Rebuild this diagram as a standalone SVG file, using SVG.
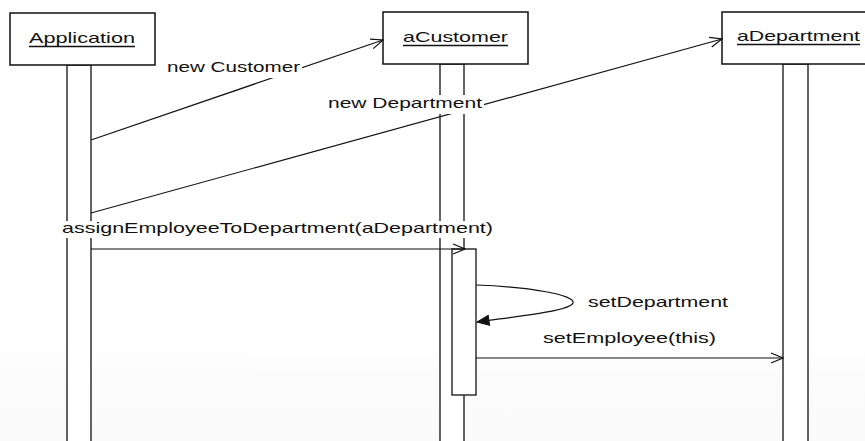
<svg xmlns="http://www.w3.org/2000/svg" width="865" height="441" viewBox="0 0 865 441">
  <style>
    .box { fill: #fff; stroke: #111; stroke-width: 1.5; }
    .bar { fill: #fff; stroke: #111; stroke-width: 1.3; }
    .lbl { font-family: "Liberation Sans", Arial, sans-serif; font-size: 15px; fill: #111; }
    .ul { stroke: #111; stroke-width: 1.3; }
    .msg { fill: none; stroke: #111; stroke-width: 1.2; }
    .bg { fill: #fff; }
  </style>
  <defs>
    <linearGradient id="fade" x1="0" y1="0" x2="0" y2="1">
      <stop offset="0" stop-color="#ffffff"/>
      <stop offset="0.3" stop-color="#fbfbfb"/>
      <stop offset="1" stop-color="#fafafa"/>
    </linearGradient>
    <marker id="open" viewBox="-13 -6 14 12" refX="0" refY="0" markerWidth="14" markerHeight="12" markerUnits="userSpaceOnUse" orient="auto">
      <path d="M-12,-5 L0,0 L-12,5" fill="none" stroke="#111" stroke-width="1.2"/>
    </marker>
    <marker id="filled" viewBox="-13 -6 14 12" refX="0" refY="0" markerWidth="14" markerHeight="12" markerUnits="userSpaceOnUse" orient="auto">
      <path d="M-12,-5 L0,0 L-12,5 Z" fill="#111" stroke="#111" stroke-width="1"/>
    </marker>
  </defs>
  <rect x="0" y="0" width="865" height="441" fill="#fff"/>
  <rect x="0" y="345" width="865" height="96" fill="url(#fade)"/>

  <g id="lifelines">
    <rect class="bar" x="67" y="65" width="24" height="400"/>
    <rect class="bar" x="440" y="64" width="24" height="400"/>
    <rect class="bar" x="783" y="64" width="25" height="400"/>
  </g>

  <g id="node-application">
    <rect class="box" x="10" y="13" width="145" height="52"/>
    <text class="lbl" x="29" y="43" textLength="106" lengthAdjust="spacingAndGlyphs">Application</text>
    <line class="ul" x1="29" y1="46.5" x2="135" y2="46.5"/>
  </g>
  <g id="node-acustomer">
    <rect class="box" x="383" y="12" width="145" height="52"/>
    <text class="lbl" x="403" y="42" textLength="105" lengthAdjust="spacingAndGlyphs">aCustomer</text>
    <line class="ul" x1="403" y1="45.5" x2="508" y2="45.5"/>
  </g>
  <g id="node-adepartment">
    <rect class="box" x="722" y="12" width="150" height="52"/>
    <text class="lbl" x="737" y="41" textLength="123" lengthAdjust="spacingAndGlyphs">aDepartment</text>
    <line class="ul" x1="737" y1="44.5" x2="860" y2="44.5"/>
  </g>

  <g id="activation">
    <rect class="bar" x="452" y="249" width="24" height="146"/>
  </g>

  <g id="connectors">
    <line class="msg" x1="91" y1="140" x2="383" y2="40" marker-end="url(#open)"/>
    <line class="msg" x1="91" y1="213" x2="722" y2="39" marker-end="url(#open)"/>
    <line class="msg" x1="91" y1="249" x2="465" y2="249" marker-end="url(#open)"/>
    <path class="msg" d="M476,285 C530,287 576,295 573,303 C570,311 520,316 477,322" marker-end="url(#filled)"/>
    <line class="msg" x1="476" y1="358" x2="783" y2="358" marker-end="url(#open)"/>
  </g>

  <g id="labels">
    <rect class="bg" x="165" y="60" width="137" height="18"/>
    <text class="lbl" x="167" y="72" textLength="133" lengthAdjust="spacingAndGlyphs">new Customer</text>
    <rect class="bg" x="326" y="95" width="158" height="19"/>
    <text class="lbl" x="328" y="108" textLength="154" lengthAdjust="spacingAndGlyphs">new Department</text>
    <rect class="bg" x="60" y="221" width="436" height="17"/>
    <text class="lbl" x="62" y="233" textLength="431" lengthAdjust="spacingAndGlyphs">assignEmployeeToDepartment(aDepartment)</text>
    <text class="lbl" x="588" y="307" textLength="140" lengthAdjust="spacingAndGlyphs">setDepartment</text>
    <text class="lbl" x="543" y="343" textLength="173" lengthAdjust="spacingAndGlyphs">setEmployee(this)</text>
  </g>
</svg>
